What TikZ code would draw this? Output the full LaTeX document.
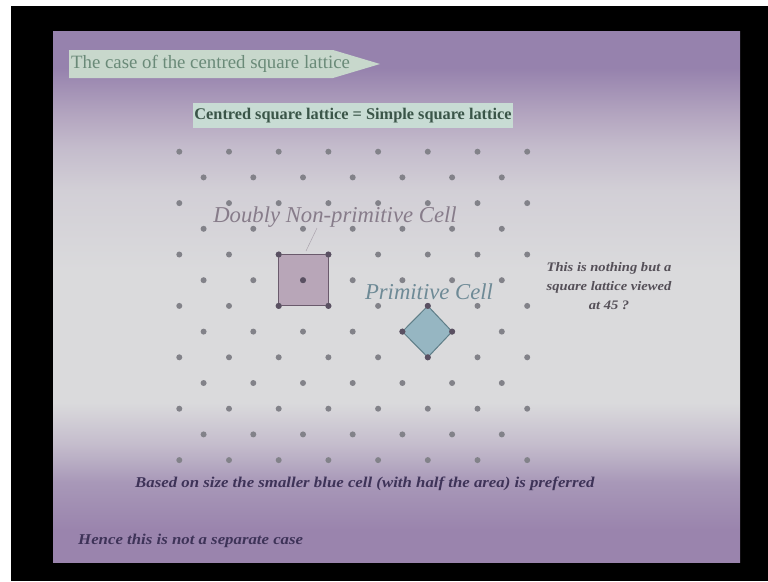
\documentclass[tikz,border=0pt]{standalone}
\usepackage{fontspec}
\setmainfont{Liberation Serif}
\newfontfamily\wideserif[FakeStretch=1.12]{Liberation Serif}
\definecolor{purpT}{HTML}{9682AD}
\definecolor{purpTM}{HTML}{B4A6C0}
\definecolor{purpM}{HTML}{A898B8}
\definecolor{lilac}{HTML}{C4BCCC}
\definecolor{pinkg}{HTML}{D2CFD6}
\definecolor{paleg}{HTML}{DADADC}
\definecolor{purpB}{HTML}{9A84AD}
\definecolor{dotgrey}{HTML}{828289}
\definecolor{dotdark}{HTML}{5A5062}
\definecolor{titlebox}{HTML}{C8D8CC}
\definecolor{titletext}{HTML}{6A8A78}
\definecolor{subbox}{HTML}{C8DCD4}
\definecolor{subtext}{HTML}{3A5548}
\definecolor{labpurple}{HTML}{877C8A}
\definecolor{primblue}{HTML}{6E8A96}
\definecolor{sqfill}{HTML}{B8A6B8}
\definecolor{sqdraw}{HTML}{6A5A6C}
\definecolor{dmfill}{HTML}{96B6C2}
\definecolor{dmdraw}{HTML}{5F7E88}
\definecolor{notecol}{HTML}{555058}
\definecolor{bottomtext}{HTML}{3E3358}
\pgfdeclareverticalshading{slidebg}{100bp}{%
  color(0bp)=(purpB); color(25bp)=(purpB); color(28bp)=(purpB); color(32.5bp)=(purpM);
  color(36bp)=(lilac); color(40bp)=(paleg); color(52.5bp)=(paleg); color(60bp)=(pinkg);
  color(64bp)=(lilac); color(67bp)=(purpTM); color(71.5bp)=(purpT); color(75bp)=(purpT); color(100bp)=(purpT)}
\begin{document}
\begin{tikzpicture}[x=1pt,y=-1pt,
  dot/.style={circle,fill=dotgrey,inner sep=0pt,minimum size=6pt},
  cdot/.style={circle,fill=dotdark,inner sep=0pt,minimum size=6pt},
  celllabel/.style={font=\itshape\fontsize{22.7}{22.7}\selectfont},
  bottomnote/.style={font=\wideserif\itshape\bfseries\fontsize{15}{15}\selectfont,text=bottomtext,anchor=west,inner sep=0pt},
  leader/.style={draw=labpurple!70,line width=0.5pt}]
\useasboundingbox (0,0) rectangle (768,581);
\fill[white] (0,0) rectangle (768,581);
\fill[black] (11,6) rectangle (768,581);
\shade[shading=slidebg] (53,31) rectangle (740,562);
% lattice coordinates
\foreach \i in {0,...,7}{\foreach \j in {0,...,6}{%
  \pgfmathsetmacro\xx{179.3+\i*49.7}\pgfmathsetmacro\yy{151.7+\j*51.4}%
  \coordinate (f\i\j) at (\xx,\yy);}}
\foreach \i in {0,...,6}{\foreach \j in {0,...,5}{%
  \pgfmathsetmacro\xx{203.6+\i*49.7}\pgfmathsetmacro\yy{177.4+\j*51.4}%
  \coordinate (c\i\j) at (\xx,\yy);}}
% cells
\filldraw[fill=sqfill,draw=sqdraw,line width=1pt] (f22) -- (f32) -- (f33) -- (f23) -- cycle;
\filldraw[fill=dmfill,draw=dmdraw,line width=1pt] (f53) -- (c53) -- (f54) -- (c43) -- cycle;
% dots
\foreach \i in {0,...,7}{\foreach \j in {0,...,6}{\node[dot] at (f\i\j) {};}}
\foreach \i in {0,...,6}{\foreach \j in {0,...,5}{\node[dot] at (c\i\j) {};}}
\foreach \p in {f22,f32,f33,f23,c22,f53,c53,f54,c43}{\node[cdot] at (\p) {};}
% title arrow
\fill[titlebox] (69,50) -- (333,50) -- (380,64) -- (333,78) -- (69,78) -- cycle;
\node[anchor=west,text=titletext,font=\fontsize{18.8}{18.8}\selectfont,inner sep=0pt] (title) at (71,64) {The case of the centred square lattice};
% subtitle
\node[fill=subbox,text=subtext,font=\bfseries\fontsize{16.3}{16.3}\selectfont,minimum width=320pt,minimum height=25pt,inner sep=0pt] (sub) at (353,115.5) {Centred square lattice = Simple square lattice};
% cell labels
\node[celllabel,text=labpurple] (dnp) at (335,217) {Doubly Non-primitive Cell};
\node[celllabel,text=primblue] (prim) at (429,292) {Primitive Cell};
\coordinate (lead1) at (317,228);
\coordinate (sqtop) at (306,251);
\draw[leader] (lead1) -- (sqtop);
% side note
\node[align=center,text=notecol,font=\wideserif\itshape\bfseries\fontsize{13}{19}\selectfont] (note) at (609,286) {This is nothing but a\\square lattice viewed\\at 45 ?};
% bottom notes
\node[bottomnote] (based) at (135,484) {Based on size the smaller blue cell (with half the area) is preferred};
\node[bottomnote] (hence) at (78,541) {Hence this is not a separate case};
\end{tikzpicture}
\end{document}
